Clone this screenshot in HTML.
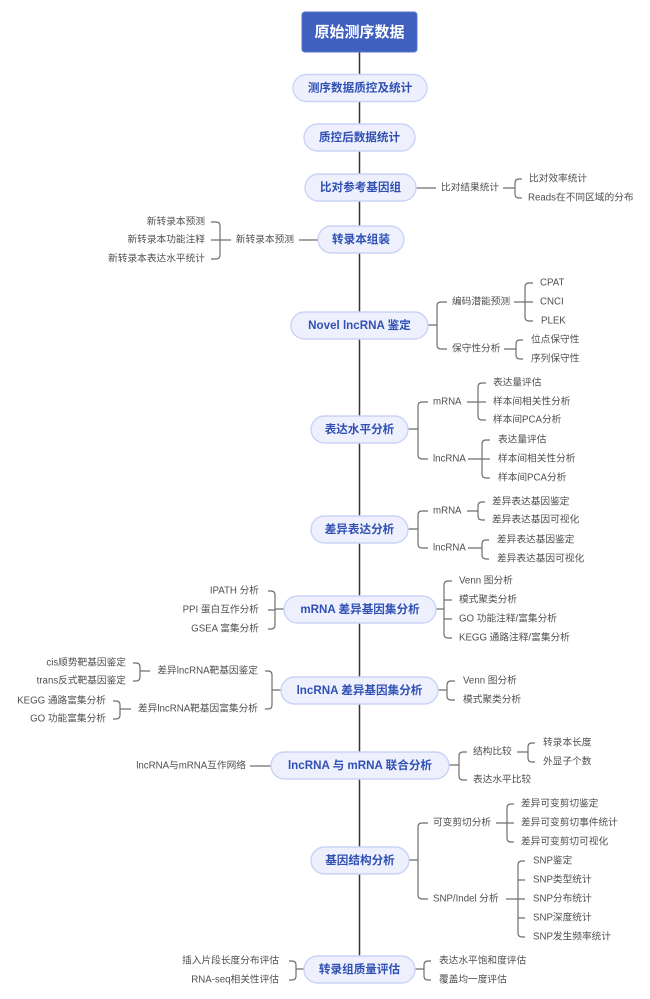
<!DOCTYPE html>
<html>
<head>
<meta charset="utf-8">
<style>
  html,body{margin:0;padding:0;background:#fff;}
  body{width:650px;height:999px;overflow:hidden;}
  svg{display:block;}
  .t{font-family:"Liberation Sans","Noto Sans CJK SC",sans-serif;font-size:9.7px;fill:#505050;dominant-baseline:central;}
  .n{font-family:"Liberation Sans","Noto Sans CJK SC",sans-serif;font-size:11.6px;font-weight:bold;fill:#3050b3;dominant-baseline:central;text-anchor:middle;}
  .pill{fill:#eef1fd;stroke:#c9d3f6;stroke-width:1.4;}
  .ln{fill:none;stroke:#6e6e6e;stroke-width:1.2;}
  .e{text-anchor:end;}
</style>
</head>
<body>
<svg width="650" height="999" viewBox="0 0 650 999" xmlns="http://www.w3.org/2000/svg">
  <!-- spine -->
  <line x1="359.5" y1="50" x2="359.5" y2="958" stroke="#333" stroke-width="1.5"/>

  <!-- connectors -->
  <g class="ln">
    <!-- 比对参考基因组 -->
    <path d="M416 188 L436 188"/>
    <path d="M503 188 L515 188 M522 179 L519 179 Q515 179 515 183 L515 194 Q515 198 519 198 L522 198"/>
    <!-- 转录本组装 left -->
    <path d="M318 240 L299 240"/>
    <path d="M231 240 L220 240 M211 222 L216 222 Q220 222 220 226 L220 255 Q220 259 216 259 L211 259 M220 240 L211 240"/>
    <!-- Novel lncRNA -->
    <path d="M428 325 L437 325 M447 302 L441 302 Q437 302 437 306 L437 345 Q437 349 441 349 L447 349"/>
    <path d="M514 302 L525 302 M533 283 L529 283 Q525 283 525 287 L525 317 Q525 321 529 321 L533 321 M525 302 L533 302"/>
    <path d="M504 349 L516 349 M523 340 L520 340 Q516 340 516 344 L516 355 Q516 359 520 359 L523 359"/>
    <!-- 表达水平分析 -->
    <path d="M408 429 L418 429 M428 402 L422 402 Q418 402 418 406 L418 455 Q418 459 422 459 L428 459"/>
    <path d="M467 402 L478 402 M486 383 L482 383 Q478 383 478 387 L478 416 Q478 420 482 420 L486 420 M478 402 L486 402"/>
    <path d="M468 459 L482 459 M490 440 L486 440 Q482 440 482 444 L482 474 Q482 478 486 478 L490 478 M482 459 L490 459"/>
    <!-- 差异表达分析 -->
    <path d="M408 529 L418 529 M428 511 L422 511 Q418 511 418 515 L418 544 Q418 548 422 548 L428 548"/>
    <path d="M467 511 L478 511 M485 502 L482 502 Q478 502 478 506 L478 516 Q478 520 482 520 L485 520"/>
    <path d="M468 548 L482 548 M489 540 L486 540 Q482 540 482 544 L482 555 Q482 559 486 559 L489 559"/>
    <!-- mRNA 差异基因集分析 right -->
    <path d="M436 609 L444 609 M452 581 L448 581 Q444 581 444 585 L444 634 Q444 638 448 638 L452 638 M444 600 L452 600 M444 619 L452 619"/>
    <!-- mRNA 差异基因集分析 left -->
    <path d="M284 609 L275 609 M268 591 L271 591 Q275 591 275 595 L275 625 Q275 629 271 629 L268 629 M275 610 L268 610"/>
    <!-- lncRNA 差异基因集分析 left -->
    <path d="M281 690 L272 690 M265 671 L268 671 Q272 671 272 675 L272 705 Q272 709 268 709 L265 709"/>
    <path d="M150 671 L140 671 M133 663 L136 663 Q140 663 140 667 L140 677 Q140 681 136 681 L133 681"/>
    <path d="M131 709 L120 709 M113 701 L116 701 Q120 701 120 705 L120 715 Q120 719 116 719 L113 719"/>
    <!-- lncRNA 差异基因集分析 right -->
    <path d="M438 690 L447 690 M455 681 L451 681 Q447 681 447 685 L447 696 Q447 700 451 700 L455 700"/>
    <!-- 联合分析 -->
    <path d="M271 766 L250 766"/>
    <path d="M449 765 L459 765 M467 752 L463 752 Q459 752 459 756 L459 776 Q459 780 463 780 L467 780"/>
    <path d="M517 752 L528 752 M535 743 L532 743 Q528 743 528 747 L528 758 Q528 762 532 762 L535 762"/>
    <!-- 基因结构分析 -->
    <path d="M409 860 L418 860 M428 823 L422 823 Q418 823 418 827 L418 895 Q418 899 422 899 L428 899"/>
    <path d="M496 823 L507 823 M514 804 L511 804 Q507 804 507 808 L507 838 Q507 842 511 842 L514 842 M507 823 L514 823"/>
    <path d="M506 899 L518 899 M525 861 L522 861 Q518 861 518 865 L518 933 Q518 937 522 937 L525 937 M518 880 L525 880 M518 899 L525 899 M518 918 L525 918"/>
    <!-- 转录组质量评估 -->
    <path d="M304 969 L296 969 M289 961 L292 961 Q296 961 296 965 L296 976 Q296 980 292 980 L289 980"/>
    <path d="M415 969 L424 969 M431 961 L428 961 Q424 961 424 965 L424 976 Q424 980 428 980 L431 980"/>
  </g>

  <!-- title -->
  <rect x="302" y="12" width="115" height="40" rx="3" fill="#4060c0" stroke="#5a76cc" stroke-width="1"/>
  <text x="359.5" y="32.5" font-family="Liberation Sans, Noto Sans CJK SC, sans-serif" font-size="15px" font-weight="bold" fill="#ffffff" text-anchor="middle" dominant-baseline="central">原始测序数据</text>

  <!-- pills -->
  <rect class="pill" x="293" y="74.5" width="134" height="27" rx="13.5"/>
  <text class="n" x="360" y="88">测序数据质控及统计</text>
  <rect class="pill" x="304" y="124" width="111" height="27" rx="13.5"/>
  <text class="n" x="359.5" y="137.5">质控后数据统计</text>
  <rect class="pill" x="305" y="174" width="111" height="27" rx="13.5"/>
  <text class="n" x="360.5" y="187.5">比对参考基因组</text>
  <rect class="pill" x="318" y="226" width="86" height="27" rx="13.5"/>
  <text class="n" x="361" y="239.5">转录本组装</text>
  <rect class="pill" x="291" y="312" width="137" height="27" rx="13.5"/>
  <text class="n" x="359.5" y="325.5">Novel lncRNA 鉴定</text>
  <rect class="pill" x="311" y="416" width="97" height="27" rx="13.5"/>
  <text class="n" x="359.5" y="429.5">表达水平分析</text>
  <rect class="pill" x="311" y="516" width="97" height="27" rx="13.5"/>
  <text class="n" x="359.5" y="529.5">差异表达分析</text>
  <rect class="pill" x="284" y="596" width="152" height="27" rx="13.5"/>
  <text class="n" x="360" y="609.5">mRNA 差异基因集分析</text>
  <rect class="pill" x="281" y="677" width="157" height="27" rx="13.5"/>
  <text class="n" x="359.5" y="690.5">lncRNA 差异基因集分析</text>
  <rect class="pill" x="271" y="752" width="178" height="27" rx="13.5"/>
  <text class="n" x="360" y="765.5">lncRNA 与 mRNA 联合分析</text>
  <rect class="pill" x="311" y="847" width="98" height="27" rx="13.5"/>
  <text class="n" x="360" y="860.5">基因结构分析</text>
  <rect class="pill" x="304" y="956" width="111" height="27" rx="13.5"/>
  <text class="n" x="359.5" y="969.5">转录组质量评估</text>

  <!-- branch texts -->
  <text class="t" x="441" y="188">比对结果统计</text>
  <text class="t" x="529" y="179">比对效率统计</text>
  <text class="t" x="528" y="198">Reads在不同区域的分布</text>

  <text class="t e" x="294" y="240">新转录本预测</text>
  <text class="t e" x="205" y="222">新转录本预测</text>
  <text class="t e" x="205" y="240">新转录本功能注释</text>
  <text class="t e" x="205" y="259">新转录本表达水平统计</text>

  <text class="t" x="452" y="302">编码潜能预测</text>
  <text class="t" x="452" y="349">保守性分析</text>
  <text class="t" x="540" y="283">CPAT</text>
  <text class="t" x="540" y="302">CNCI</text>
  <text class="t" x="541" y="321">PLEK</text>
  <text class="t" x="531" y="340">位点保守性</text>
  <text class="t" x="531" y="359">序列保守性</text>

  <text class="t" x="433" y="402">mRNA</text>
  <text class="t" x="433" y="459">lncRNA</text>
  <text class="t" x="493" y="383">表达量评估</text>
  <text class="t" x="493" y="402">样本间相关性分析</text>
  <text class="t" x="493" y="420">样本间PCA分析</text>
  <text class="t" x="498" y="440">表达量评估</text>
  <text class="t" x="498" y="459">样本间相关性分析</text>
  <text class="t" x="498" y="478">样本间PCA分析</text>

  <text class="t" x="433" y="511">mRNA</text>
  <text class="t" x="433" y="548">lncRNA</text>
  <text class="t" x="492" y="502">差异表达基因鉴定</text>
  <text class="t" x="492" y="520">差异表达基因可视化</text>
  <text class="t" x="497" y="540">差异表达基因鉴定</text>
  <text class="t" x="497" y="559">差异表达基因可视化</text>

  <text class="t" x="459" y="581">Venn 图分析</text>
  <text class="t" x="459" y="600">模式聚类分析</text>
  <text class="t" x="459" y="619">GO 功能注释/富集分析</text>
  <text class="t" x="459" y="638">KEGG 通路注释/富集分析</text>
  <text class="t e" x="259" y="591">IPATH 分析</text>
  <text class="t e" x="259" y="610">PPI 蛋白互作分析</text>
  <text class="t e" x="259" y="629">GSEA 富集分析</text>

  <text class="t e" x="258" y="671">差异lncRNA靶基因鉴定</text>
  <text class="t e" x="258" y="709">差异lncRNA靶基因富集分析</text>
  <text class="t e" x="126" y="663">cis顺势靶基因鉴定</text>
  <text class="t e" x="126" y="681">trans反式靶基因鉴定</text>
  <text class="t e" x="106" y="701">KEGG 通路富集分析</text>
  <text class="t e" x="106" y="719">GO 功能富集分析</text>
  <text class="t" x="463" y="681">Venn 图分析</text>
  <text class="t" x="463" y="700">模式聚类分析</text>

  <text class="t e" x="246" y="766">lncRNA与mRNA互作网络</text>
  <text class="t" x="473" y="752">结构比较</text>
  <text class="t" x="473" y="780">表达水平比较</text>
  <text class="t" x="543" y="743">转录本长度</text>
  <text class="t" x="543" y="762">外显子个数</text>

  <text class="t" x="433" y="823">可变剪切分析</text>
  <text class="t" x="433" y="899">SNP/Indel 分析</text>
  <text class="t" x="521" y="804">差异可变剪切鉴定</text>
  <text class="t" x="521" y="823">差异可变剪切事件统计</text>
  <text class="t" x="521" y="842">差异可变剪切可视化</text>
  <text class="t" x="533" y="861">SNP鉴定</text>
  <text class="t" x="533" y="880">SNP类型统计</text>
  <text class="t" x="533" y="899">SNP分布统计</text>
  <text class="t" x="533" y="918">SNP深度统计</text>
  <text class="t" x="533" y="937">SNP发生频率统计</text>

  <text class="t e" x="279" y="961">插入片段长度分布评估</text>
  <text class="t e" x="279" y="980">RNA-seq相关性评估</text>
  <text class="t" x="439" y="961">表达水平饱和度评估</text>
  <text class="t" x="439" y="980">覆盖均一度评估</text>
</svg>
</body>
</html>
